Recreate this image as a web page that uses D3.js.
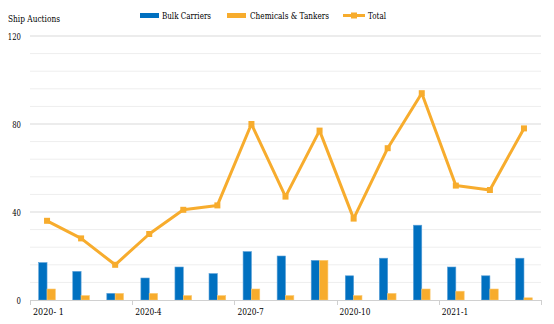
<!DOCTYPE html>
<html><head><meta charset="utf-8">
<script src="https://cdn.jsdelivr.net/npm/d3@7"></script>
<style>body{margin:0;background:#fff}svg{display:block}</style>
</head><body>
<svg id="c" width="554" height="324"></svg>
<script>
const categories = ["2020-1","2020-2","2020-3","2020-4","2020-5","2020-6","2020-7","2020-8","2020-9","2020-10","2020-11","2020-12","2021-1","2021-2","2021-3"];
const tickLabels = {"2020-1":"2020- 1","2020-4":"2020-4","2020-7":"2020-7","2020-10":"2020-10","2021-1":"2021-1"};
const bulkCarriers = [17,13,3,10,15,12,22,20,18,11,19,34,15,11,19];
const chemicalsTankers = [5,2,3,3,2,2,5,2,18,2,3,5,4,5,1];
const total = [36,28,16,30,41,43,80,47,77,37,69,94,52,50,78];
const yMajor = [0,40,80,120];

const FONT = "DejaVu Serif";
const FS = 9.5;
// approximate rendered widths in the reference (narrow Times-like face)
const fitW = s => Math.max(4, s.length * 3.9);
const svg = d3.select("#c");
const L=30,R=541,T=36,B=300;
const blue="#0070C0", orange="#F7AC2D";
const x = d3.scaleBand().domain(categories).range([L,R]);
const y = d3.scaleLinear().domain([0,120]).range([B,T]);

function txt(sel, w){
  sel.attr("font-family",FONT).attr("font-size",FS).attr("fill","#000");
  if (w) sel.attr("textLength",w).attr("lengthAdjust","spacingAndGlyphs");
  return sel;
}

// gridlines
const minor = d3.range(0,121,8).filter(v=>v%40!==0);
svg.append("g").selectAll("line").data(minor).join("line")
 .attr("x1",L).attr("x2",R).attr("y1",d=>y(d)).attr("y2",d=>y(d))
 .attr("stroke","#eeeeee").attr("stroke-width",1);
svg.append("g").selectAll("line").data(yMajor.filter(v=>v>0)).join("line")
 .attr("x1",L).attr("x2",R).attr("y1",d=>y(d)).attr("y2",d=>y(d))
 .attr("stroke","#d9d9d9").attr("stroke-width",1);

// y labels
svg.append("g").selectAll("text").data(yMajor).join("text")
 .attr("x",21).attr("y",d=>y(d)+3.5).attr("text-anchor","end")
 .call(s=>txt(s)).attr("textLength",d=>String(d).length*4.4).attr("lengthAdjust","spacingAndGlyphs")
 .text(d=>d);

// bars
const bw = x.bandwidth()*0.245;
const g = svg.append("g");
g.selectAll(".b").data(bulkCarriers).join("rect")
 .attr("x",(d,i)=>x(categories[i])+x.bandwidth()/2-bw).attr("width",bw)
 .attr("y",d=>y(d)).attr("height",d=>B-y(d)).attr("fill",blue)
 .attr("stroke","#5aa0d8").attr("stroke-width",0.6);
g.selectAll(".o").data(chemicalsTankers).join("rect")
 .attr("x",(d,i)=>x(categories[i])+x.bandwidth()/2).attr("width",bw)
 .attr("y",d=>y(d)).attr("height",d=>B-y(d)).attr("fill",orange)
 .attr("stroke","#fbc870").attr("stroke-width",0.6);

// x axis
svg.append("line").attr("x1",L).attr("x2",R).attr("y1",B+0.5).attr("y2",B+0.5).attr("stroke","#d0d0d0");
const tickCats = categories.filter((c,i)=>i%3===0);
const tickXs = tickCats.map(c=>x(c)).concat([R]);
svg.append("g").selectAll("line").data(tickXs).join("line")
 .attr("x1",d=>Math.round(d)+0.5).attr("x2",d=>Math.round(d)+0.5).attr("y1",B).attr("y2",B+5).attr("stroke","#d0d0d0");
svg.append("g").selectAll("text").data(tickCats).join("text")
 .attr("x",d=>x(d)+3).attr("y",315).call(s=>txt(s))
 .attr("textLength",d=>tickLabels[d].length*4.4).attr("lengthAdjust","spacingAndGlyphs")
 .text(d=>tickLabels[d]);

// line
const cx = (i)=>x(categories[i])+x.bandwidth()/2;
svg.append("path").datum(total)
 .attr("d",d3.line().x((d,i)=>cx(i)).y(d=>y(d)))
 .attr("fill","none").attr("stroke",orange).attr("stroke-width",3).attr("stroke-linejoin","round");
svg.append("g").selectAll("rect").data(total).join("rect")
 .attr("x",(d,i)=>cx(i)-3).attr("y",d=>y(d)-3).attr("width",6).attr("height",6).attr("fill",orange);

// title
txt(svg.append("text").attr("x",8).attr("y",22), 52).text("Ship  Auctions");

// legend
const lg = svg.append("g");
lg.append("rect").attr("x",140).attr("y",13).attr("width",19).attr("height",5).attr("fill",blue);
txt(lg.append("text").attr("x",162).attr("y",19), 49).text("Bulk Carriers");
lg.append("rect").attr("x",227).attr("y",13).attr("width",19).attr("height",5).attr("fill",orange);
txt(lg.append("text").attr("x",250).attr("y",19), 79).text("Chemicals & Tankers");
lg.append("line").attr("x1",343).attr("x2",365).attr("y1",15.5).attr("y2",15.5).attr("stroke",orange).attr("stroke-width",3);
lg.append("rect").attr("x",351).attr("y",12.5).attr("width",6).attr("height",6).attr("fill",orange);
txt(lg.append("text").attr("x",368).attr("y",19), 18).text("Total");
</script>
</body></html>
